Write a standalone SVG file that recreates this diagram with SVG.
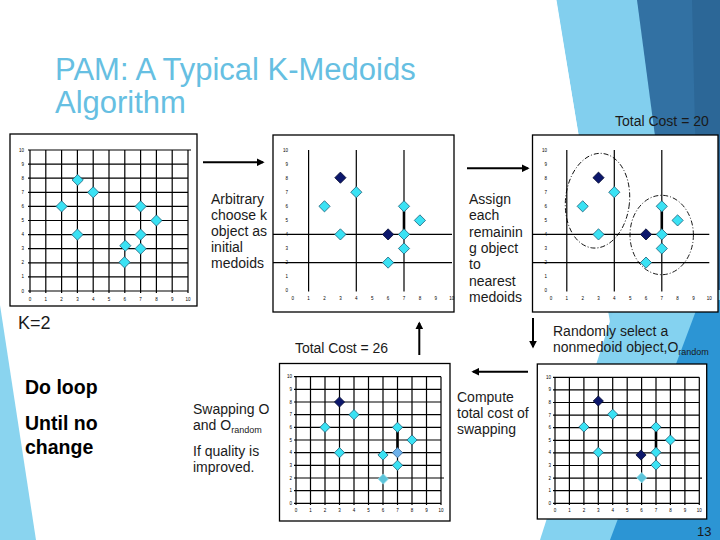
<svg xmlns="http://www.w3.org/2000/svg" xmlns:xlink="http://www.w3.org/1999/xlink" width="720" height="540" viewBox="0 0 720 540">
<style>
.box{fill:#fff;stroke:#000;stroke-width:1.3}
.grid{fill:none;stroke:#000;stroke-width:1.2}
.thick{stroke:#000;stroke-width:2.6}
.ax{font-family:"Liberation Sans",Arial,sans-serif;font-size:4.5px;fill:#000}
.axc{text-anchor:middle}
.axr{text-anchor:end}
.c{fill:#3ae2f4;stroke:#1e5f78;stroke-width:0.8}
.n{fill:#0c176c;stroke:#040a30;stroke-width:0.8}
.s{fill:#6eb1ea;stroke:#2f5f8f;stroke-width:0.8}
.m{fill:#5cc4da;stroke:#8fdcea;stroke-width:0.8}
.t{font-family:"Liberation Sans",Arial,sans-serif;font-size:14px;fill:#1a1a1a}
.sub{font-size:9px}
.b{font-family:"Liberation Sans",Arial,sans-serif;font-size:19.5px;font-weight:bold;fill:#000}
.title{font-family:"Liberation Sans",Arial,sans-serif;font-size:31px;fill:#66bfe2}
.ell{fill:none;stroke:#000;stroke-width:0.9;stroke-dasharray:5 2 1 2}
.arr{stroke:#000;stroke-width:2;fill:none;marker-end:url(#ah)}
</style>
<defs>
<marker id="ah" viewBox="0 0 10 10" refX="8" refY="5" markerWidth="4" markerHeight="4" orient="auto"><path d="M0,0L10,5L0,10Z" fill="#000"/></marker>
<path id="dA" d="M0,-5.6L5.6,0L0,5.6L-5.6,0Z"/>
<path id="dB" d="M0,-5.1L5.1,0L0,5.1L-5.1,0Z"/>
</defs>

<!-- background decoration -->
<g id="decor">
<polygon points="0,305 36,540 0,540" fill="#8ad4ef"/>
<polygon points="556,0 720,0 720,340 613,340" fill="#82cfee"/>
<polygon points="637,0 720,0 720,340 682,340" fill="#3271a3"/>
<polygon points="692,0 720,0 720,340 700,340" fill="#2c6797"/>
<polygon points="620,290 720,290 720,540 540,540" fill="#84d2f0"/>
<polygon points="700,300 720,300 720,540 610,540" fill="#2c95d4"/>
<line x1="556" y1="0" x2="578" y2="135" stroke="#fff" stroke-width="1"/>
</g>

<g id="title">
<text class="title" x="55" y="80">PAM: A Typical K-Medoids</text>
<text class="title" x="55" y="113">Algorithm</text>
</g>

<g id="cost20"><text class="t" x="615" y="126">Total Cost = 20</text></g>

<!-- Plot 1 -->
<g id="plot1">
<rect class="box" x="10" y="134" width="187" height="172"/>
<path class="grid" d="M30,150V293M45.8,150V293M61.6,150V293M77.4,150V293M93.2,150V293M109,150V293M124.8,150V293M140.6,150V293M156.4,150V293M172.2,150V293M188,150V293M28,291H188M28,276.9H188M28,262.8H188M28,248.7H188M28,234.6H188M28,220.5H188M28,206.4H188M28,192.3H188M28,178.2H188M28,164.1H188M28,150H191"/>
<g class="ax axc"><text x="30" y="301">0</text><text x="45.8" y="301">1</text><text x="61.6" y="301">2</text><text x="77.4" y="301">3</text><text x="93.2" y="301">4</text><text x="109" y="301">5</text><text x="124.8" y="301">6</text><text x="140.6" y="301">7</text><text x="156.4" y="301">8</text><text x="172.2" y="301">9</text><text x="188" y="301">10</text></g>
<g class="ax axr"><text x="24" y="292.5">0</text><text x="24" y="278.4">1</text><text x="24" y="264.3">2</text><text x="24" y="250.2">3</text><text x="24" y="236.1">4</text><text x="24" y="222">5</text><text x="24" y="207.9">6</text><text x="24" y="193.8">7</text><text x="24" y="179.7">8</text><text x="24" y="165.6">9</text><text x="24" y="151.5">10</text></g>
<use xlink:href="#dA" class="c" x="61.6" y="206.4"/>
<use xlink:href="#dA" class="c" x="77.7" y="180"/>
<use xlink:href="#dA" class="c" x="93.2" y="192.3"/>
<use xlink:href="#dA" class="c" x="140.6" y="206.4"/>
<use xlink:href="#dA" class="c" x="156.4" y="220.5"/>
<use xlink:href="#dA" class="c" x="77.4" y="234.6"/>
<use xlink:href="#dA" class="c" x="140.6" y="234.6"/>
<use xlink:href="#dA" class="c" x="125.3" y="245.7"/>
<use xlink:href="#dA" class="c" x="140.6" y="248.7"/>
<use xlink:href="#dA" class="c" x="124.5" y="262.3"/>
</g>

<!-- Plot 2 -->
<g id="plot2">
<rect class="box" x="273" y="135" width="181" height="177"/>
<path class="grid" d="M308.6,150V291.5M356.3,150V291.5M404,150V291.5M273,234.4H452M273,262.6H452"/>
<line class="thick" x1="404" y1="206.3" x2="404" y2="234.4"/>
<g class="ax axc"><text x="292.7" y="300">0</text><text x="308.6" y="300">1</text><text x="324.5" y="300">2</text><text x="340.4" y="300">3</text><text x="356.3" y="300">4</text><text x="372.2" y="300">5</text><text x="388.1" y="300">6</text><text x="404" y="300">7</text><text x="419.9" y="300">8</text><text x="435.8" y="300">9</text><text x="451.7" y="300">10</text></g>
<g class="ax axr"><text x="288" y="292.2">0</text><text x="288" y="278.1">1</text><text x="288" y="264.1">2</text><text x="288" y="250">3</text><text x="288" y="235.9">4</text><text x="288" y="221.9">5</text><text x="288" y="207.8">6</text><text x="288" y="193.7">7</text><text x="288" y="179.7">8</text><text x="288" y="165.6">9</text><text x="288" y="151.5">10</text></g>
<use xlink:href="#dA" class="n" x="340.4" y="177.7"/>
<use xlink:href="#dA" class="c" x="356.3" y="192.2"/>
<use xlink:href="#dA" class="c" x="324.5" y="206.3"/>
<use xlink:href="#dA" class="c" x="404" y="206.3"/>
<use xlink:href="#dA" class="c" x="419.9" y="220.4"/>
<use xlink:href="#dA" class="c" x="340.4" y="234.4"/>
<use xlink:href="#dA" class="n" x="388.1" y="234.4"/>
<use xlink:href="#dA" class="c" x="404" y="234.4"/>
<use xlink:href="#dA" class="c" x="404" y="248.5"/>
<use xlink:href="#dA" class="c" x="388.1" y="262.6"/>
</g>

<!-- Plot 3 -->
<g id="plot3">
<rect class="box" x="532.5" y="135" width="185.5" height="177"/>
<path class="grid" d="M566.8,150V291.5M614.3,150V291.5M661.8,150V291.5M533,234.4H709.3M533,262.6H709.3"/>
<line class="thick" x1="661.8" y1="206.3" x2="661.8" y2="234.4"/>
<ellipse class="ell" cx="597.5" cy="200.7" rx="32" ry="47.5" transform="rotate(6 597.5 200.7)"/>
<ellipse class="ell" cx="661.7" cy="235" rx="31.7" ry="39.7"/>
<g class="ax axc"><text x="551" y="300">0</text><text x="566.8" y="300">1</text><text x="582.7" y="300">2</text><text x="598.5" y="300">3</text><text x="614.3" y="300">4</text><text x="630.2" y="300">5</text><text x="646" y="300">6</text><text x="661.8" y="300">7</text><text x="677.6" y="300">8</text><text x="693.5" y="300">9</text><text x="709.3" y="300">10</text></g>
<g class="ax axr"><text x="547" y="292.2">0</text><text x="547" y="278.1">1</text><text x="547" y="264.1">2</text><text x="547" y="250">3</text><text x="547" y="235.9">4</text><text x="547" y="221.9">5</text><text x="547" y="207.8">6</text><text x="547" y="193.7">7</text><text x="547" y="179.7">8</text><text x="547" y="165.6">9</text><text x="547" y="151.5">10</text></g>
<use xlink:href="#dA" class="n" x="598.5" y="177.7"/>
<use xlink:href="#dA" class="c" x="614.3" y="192.2"/>
<use xlink:href="#dA" class="c" x="582.7" y="206.3"/>
<use xlink:href="#dA" class="c" x="598.5" y="234.4"/>
<use xlink:href="#dA" class="c" x="661.8" y="206.3"/>
<use xlink:href="#dA" class="c" x="677.6" y="220.4"/>
<use xlink:href="#dA" class="n" x="646" y="234.4"/>
<use xlink:href="#dA" class="c" x="661.8" y="234.4"/>
<use xlink:href="#dA" class="c" x="661.8" y="248.5"/>
<use xlink:href="#dA" class="c" x="646" y="262.6"/>
</g>

<!-- Plot 4 -->
<g id="plot4">
<rect class="box" x="279.5" y="363.5" width="170.5" height="157.5"/>
<path class="grid" d="M296,376.7V505M310.5,376.7V505M325,376.7V505M339.5,376.7V505M354,376.7V505M368.5,376.7V505M383,376.7V505M397.5,376.7V505M412,376.7V505M426.5,376.7V505M441,376.7V505M294,503.3H441M294,490.6H441M294,478H444M294,465.3H441M294,452.7H441M294,440H441M294,427.3H441M294,414.7H441M294,402H441M294,389.4H441M294,376.7H441"/>
<line class="thick" x1="397.5" y1="427.3" x2="397.5" y2="452.7"/>
<g class="ax axc"><text x="296" y="512">0</text><text x="310.5" y="512">1</text><text x="325" y="512">2</text><text x="339.5" y="512">3</text><text x="354" y="512">4</text><text x="368.5" y="512">5</text><text x="383" y="512">6</text><text x="397.5" y="512">7</text><text x="412" y="512">8</text><text x="426.5" y="512">9</text><text x="441" y="512">10</text></g>
<g class="ax axr"><text x="292" y="504.8">0</text><text x="292" y="492.1">1</text><text x="292" y="479.5">2</text><text x="292" y="466.8">3</text><text x="292" y="454.2">4</text><text x="292" y="441.5">5</text><text x="292" y="428.8">6</text><text x="292" y="416.2">7</text><text x="292" y="403.5">8</text><text x="292" y="390.9">9</text><text x="292" y="378.2">10</text></g>
<use xlink:href="#dB" class="n" x="339.5" y="402"/>
<use xlink:href="#dB" class="c" x="354" y="414.7"/>
<use xlink:href="#dB" class="c" x="325" y="427.3"/>
<use xlink:href="#dB" class="c" x="397.5" y="427.3"/>
<use xlink:href="#dB" class="c" x="412" y="440"/>
<use xlink:href="#dB" class="c" x="339.5" y="452.7"/>
<use xlink:href="#dB" class="s" x="397.5" y="452.7"/>
<use xlink:href="#dB" class="c" x="383" y="455"/>
<use xlink:href="#dB" class="c" x="397.5" y="465.3"/>
<use xlink:href="#dB" class="m" x="383.3" y="479"/>
</g>

<!-- Plot 5 -->
<g id="plot5">
<rect class="box" x="537.3" y="364" width="169.4" height="155"/>
<path class="grid" d="M555,377.3V505M569.4,377.3V505M583.9,377.3V505M598.3,377.3V505M612.7,377.3V505M627.2,377.3V505M641.6,377.3V505M656,377.3V505M670.4,377.3V505M684.9,377.3V505M699.3,377.3V505M553,503.3H699.3M553,490.7H699.3M553,478.1H702M553,465.5H699.3M553,452.9H699.3M553,440.3H699.3M553,427.7H699.3M553,415.1H699.3M553,402.5H699.3M553,389.9H699.3M553,377.3H699.3"/>
<line class="thick" x1="656" y1="427" x2="656" y2="452.3"/>
<g class="ax axc"><text x="555" y="512">0</text><text x="569.4" y="512">1</text><text x="583.9" y="512">2</text><text x="598.3" y="512">3</text><text x="612.7" y="512">4</text><text x="627.2" y="512">5</text><text x="641.6" y="512">6</text><text x="656" y="512">7</text><text x="670.4" y="512">8</text><text x="684.9" y="512">9</text><text x="699.3" y="512">10</text></g>
<g class="ax axr"><text x="551" y="504.8">0</text><text x="551" y="492.2">1</text><text x="551" y="479.6">2</text><text x="551" y="467">3</text><text x="551" y="454.4">4</text><text x="551" y="441.8">5</text><text x="551" y="429.2">6</text><text x="551" y="416.6">7</text><text x="551" y="404">8</text><text x="551" y="391.4">9</text><text x="551" y="378.8">10</text></g>
<use xlink:href="#dB" class="n" x="598.3" y="401"/>
<use xlink:href="#dB" class="c" x="612.7" y="414.3"/>
<use xlink:href="#dB" class="c" x="583.9" y="427"/>
<use xlink:href="#dB" class="c" x="656" y="427"/>
<use xlink:href="#dB" class="c" x="670.4" y="440"/>
<use xlink:href="#dB" class="c" x="598.3" y="452.3"/>
<use xlink:href="#dB" class="c" x="656" y="452.3"/>
<use xlink:href="#dB" class="n" x="641" y="455"/>
<use xlink:href="#dB" class="c" x="656" y="465"/>
<use xlink:href="#dB" class="m" x="641.7" y="477.7"/>
</g>

<!-- connectors -->
<g id="connectors">
<path class="arr" d="M203,162.3H263"/>
<path class="arr" d="M467,168.3H528"/>
<path class="arr" d="M533,318V347"/>
<path class="arr" d="M528,371.7H473"/>
<path class="arr" d="M419.3,355V323"/>
</g>

<!-- labels -->
<g id="label-arbitrary" class="t">
<text x="211" y="204">Arbitrary</text>
<text x="211" y="220">choose k</text>
<text x="211" y="236">object as</text>
<text x="211" y="252">initial</text>
<text x="211" y="268">medoids</text>
</g>
<g id="label-assign" class="t">
<text x="469" y="204">Assign</text>
<text x="469" y="220.3">each</text>
<text x="469" y="236.6">remainin</text>
<text x="469" y="252.9">g object</text>
<text x="469" y="269.2">to</text>
<text x="469" y="285.5">nearest</text>
<text x="469" y="301.8">medoids</text>
</g>
<g id="label-k"><text class="t" x="18" y="329" style="font-size:18px">K=2</text></g>
<g id="label-cost26"><text class="t" x="295" y="353" textLength="93">Total Cost = 26</text></g>
<g id="label-random" class="t">
<text x="553" y="336">Randomly select a</text>
<text x="553" y="352">nonmedoid object,O<tspan class="sub" dy="3">random</tspan></text>
</g>
<g id="label-compute" class="t">
<text x="457" y="402">Compute</text>
<text x="457" y="418">total cost of</text>
<text x="457" y="434">swapping</text>
</g>
<g id="label-swap" class="t">
<text x="193" y="414">Swapping O</text>
<text x="193" y="430">and O<tspan class="sub" dy="3">random</tspan></text>
<text x="193" y="456">If quality is</text>
<text x="193" y="472">improved.</text>
</g>
<g id="label-loop" class="b">
<text x="25" y="394">Do loop</text>
<text x="25" y="430">Until no</text>
<text x="25" y="454">change</text>
</g>
<g id="pagenum"><text class="t" x="697" y="536" style="font-size:13px">13</text></g>
</svg>
